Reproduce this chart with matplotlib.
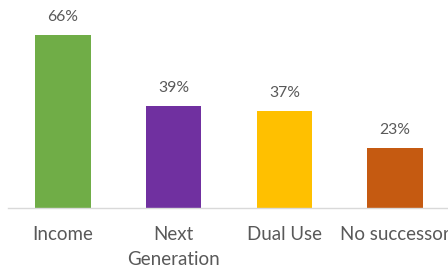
import matplotlib
matplotlib.use("Agg")
import matplotlib.pyplot as plt

# reasons and their share
categories = ['Income', 'Next\nGeneration', 'Dual Use', 'No successor']
values = [66, 39, 37, 23]
colors = ['#70AD47', '#7030A0', '#FFC000', '#C55A11']

plt.rcParams['font.family'] = ['Lato', 'DejaVu Sans']

fig = plt.figure(figsize=(4.48, 2.69), dpi=100)
# axes run slightly past the right edge, the picture is cropped there
ax = fig.add_axes([7.5 / 448, 1 - 208 / 269, 443 / 448, 183.5 / 269])

x = range(len(categories))
bars = ax.bar(x, values, width=0.5, color=colors)

for xi, v in zip(x, values):
    ax.annotate('{}%'.format(v), xy=(xi, v), xytext=(0, 8), textcoords='offset points',
                ha='center', va='bottom', fontsize=11.3, color='#595959')

ax.set_xlim(-0.5, len(categories) - 0.5)
ax.set_ylim(0, 70)
ax.set_xticks(list(x))
ax.set_xticklabels(categories, fontsize=13.5, color='#595959', linespacing=1.55)
ax.tick_params(axis='x', length=0, pad=13)
ax.set_yticks([])
for side in ['left', 'right', 'top']:
    ax.spines[side].set_visible(False)
ax.spines['bottom'].set_color('#D9D9D9')
ax.spines['bottom'].set_linewidth(1)

fig.savefig('out.png', dpi=100)
